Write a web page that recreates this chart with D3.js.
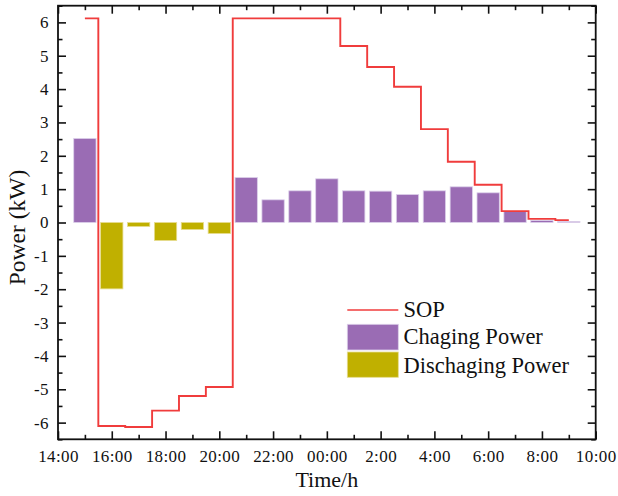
<!DOCTYPE html>
<html>
<head>
<meta charset="utf-8">
<script src="https://cdn.jsdelivr.net/npm/d3@7"></script>
<style>
  html, body { margin: 0; padding: 0; background: #fff; }
  svg { display: block; }
  text { font-family: "Liberation Serif", "Times New Roman", serif; fill: #111; }
</style>
</head>
<body>
<svg id="chart" width="618" height="496"></svg>
<script>
// ---- data (hours counted from 14:00 of day 1; 24 = 00:00, 34 = 10:00 next day) ----
const xTickHours = [14, 16, 18, 20, 22, 24, 26, 28, 30, 32, 34];
const xTickLabels = ["14:00", "16:00", "18:00", "20:00", "22:00", "00:00", "2:00", "4:00", "6:00", "8:00", "10:00"];
const yTicks = [-6, -5, -4, -3, -2, -1, 0, 1, 2, 3, 4, 5, 6];

const chargeHours = [15, 21, 22, 23, 24, 25, 26, 27, 28, 29, 30, 31, 32, 33];
const chargePower = [2.52, 1.35, 0.68, 0.95, 1.31, 0.95, 0.94, 0.84, 0.95, 1.07, 0.89, 0.33, 0.06, 0.03];

const dischargeHours = [16, 17, 18, 19, 20];
const dischargePower = [-1.99, -0.12, -0.54, -0.21, -0.33];

// SOP: one level per hourly slot (slot centred on the hour)
const sopHours = [15, 16, 17, 18, 19, 20, 21, 22, 23, 24, 25, 26, 27, 28, 29, 30, 31, 32, 33];
const sopValues = [6.12, -6.10, -6.13, -5.64, -5.20, -4.93, 6.12, 6.12, 6.12, 6.12, 5.29, 4.66, 4.07, 2.80, 1.82, 1.13, 0.34, 0.11, 0.07];

const legendLabels = ["SOP", "Chaging Power", "Dischaging Power"];

// ---- layout ----
const svg = d3.select("#chart");
const L = 58, R = 595.7, T = 5.7, B = 439.3;
const purple = "#9a6cb4", olive = "#c0b000", red = "#f03c3c";
const serif = '"Liberation Serif", "Times New Roman", serif';

const x = d3.scaleLinear().domain([14, 34]).range([L, R]);
const y = d3.scaleLinear().domain([-6.5, 6.5]).range([B, T]);
const barW = (x(15) - x(14)) * 0.83;

// bars
svg.append("g").selectAll("rect.c")
  .data(chargeHours.map((h, i) => ({ h, v: chargePower[i] })))
  .join("rect")
  .attr("x", d => x(d.h) - barW / 2)
  .attr("width", barW)
  .attr("y", d => y(Math.max(0, d.v)))
  .attr("height", d => Math.abs(y(d.v) - y(0)))
  .attr("fill", purple)
  .attr("stroke", "#dcd0ea")
  .attr("stroke-width", 0.8);

svg.append("g").selectAll("rect.d")
  .data(dischargeHours.map((h, i) => ({ h, v: dischargePower[i] })))
  .join("rect")
  .attr("x", d => x(d.h) - barW / 2)
  .attr("width", barW)
  .attr("y", d => y(Math.max(0, d.v)))
  .attr("height", d => Math.abs(y(d.v) - y(0)))
  .attr("fill", olive)
  .attr("stroke", "#e6dc90")
  .attr("stroke-width", 0.8);

// SOP step line
const sopPts = [];
sopHours.forEach((h, i) => {
  const start = i === 0 ? h : h - 0.5;
  sopPts.push([start, sopValues[i]]);
});
sopPts.push([sopHours[sopHours.length - 1], sopValues[sopValues.length - 1]]);
svg.append("path")
  .datum(sopPts)
  .attr("fill", "none")
  .attr("stroke", red)
  .attr("stroke-width", 1.9)
  .attr("d", d3.line().x(d => x(d[0])).y(d => y(d[1])).curve(d3.curveStepAfter));

// axes (ticks inward on all four sides)
const minorX = d3.range(15, 34, 2);
const minorY = d3.range(-6.5, 6.6, 1);
const fmtX = d => xTickLabels[xTickHours.indexOf(d)];

function styleAxis(g) {
  g.attr("font-family", serif);
  g.select(".domain").remove();
  g.selectAll(".tick line").attr("stroke", "#111").attr("stroke-width", 1.6);
  g.selectAll("text")
    .style("font-family", serif)
    .style("font-size", "17px")
    .style("letter-spacing", "0.4px")
    .attr("fill", "#111");
}

svg.append("g").attr("transform", `translate(0,${B})`)
  .call(d3.axisBottom(x).tickValues(xTickHours).tickFormat(fmtX).tickSize(-8).tickPadding(11))
  .call(styleAxis);
svg.append("g").attr("transform", `translate(0,${B})`)
  .call(d3.axisBottom(x).tickValues(minorX).tickFormat("").tickSize(-4.5))
  .call(styleAxis);
svg.append("g").attr("transform", `translate(0,${T})`)
  .call(d3.axisTop(x).tickValues(xTickHours).tickFormat("").tickSize(-8))
  .call(styleAxis);
svg.append("g").attr("transform", `translate(0,${T})`)
  .call(d3.axisTop(x).tickValues(minorX).tickFormat("").tickSize(-4.5))
  .call(styleAxis);

svg.append("g").attr("transform", `translate(${L},0)`)
  .call(d3.axisLeft(y).tickValues(yTicks).tickFormat(d => String(d)).tickSize(-8).tickPadding(9))
  .call(styleAxis);
svg.append("g").attr("transform", `translate(${L},0)`)
  .call(d3.axisLeft(y).tickValues(minorY).tickFormat("").tickSize(-4.5))
  .call(styleAxis);
svg.append("g").attr("transform", `translate(${R},0)`)
  .call(d3.axisRight(y).tickValues(yTicks).tickFormat("").tickSize(-8))
  .call(styleAxis);
svg.append("g").attr("transform", `translate(${R},0)`)
  .call(d3.axisRight(y).tickValues(minorY).tickFormat("").tickSize(-4.5))
  .call(styleAxis);

// frame
svg.append("rect")
  .attr("x", L).attr("y", T).attr("width", R - L).attr("height", B - T)
  .attr("fill", "none").attr("stroke", "#111").attr("stroke-width", 1.8);

// axis titles
svg.append("text")
  .attr("x", (L + R) / 2).attr("y", 486.5)
  .attr("text-anchor", "middle")
  .style("font-size", "22px")
  .text("Time/h");
svg.append("text")
  .attr("transform", `translate(25,${(T + B) / 2 + 5}) rotate(-90)`)
  .attr("text-anchor", "middle")
  .style("font-size", "23.5px")
  .text("Power (kW)");

// legend
const lg = svg.append("g");
lg.append("line")
  .attr("x1", 347.3).attr("x2", 398.3).attr("y1", 310).attr("y2", 310)
  .attr("stroke", red).attr("stroke-width", 1.6);
lg.append("rect").attr("x", 347.3).attr("y", 324.3).attr("width", 51).attr("height", 25.7)
  .attr("fill", purple).attr("stroke", "#dcd0ea").attr("stroke-width", 0.8);
lg.append("rect").attr("x", 347.3).attr("y", 352).attr("width", 51).attr("height", 25.3)
  .attr("fill", olive).attr("stroke", "#e6dc90").attr("stroke-width", 0.8);
const lgY = [316.7, 344.3, 372.7];
legendLabels.forEach((t, i) => {
  lg.append("text").attr("x", 403.5).attr("y", lgY[i]).style("font-size", "22.5px").text(t);
});
</script>
</body>
</html>
